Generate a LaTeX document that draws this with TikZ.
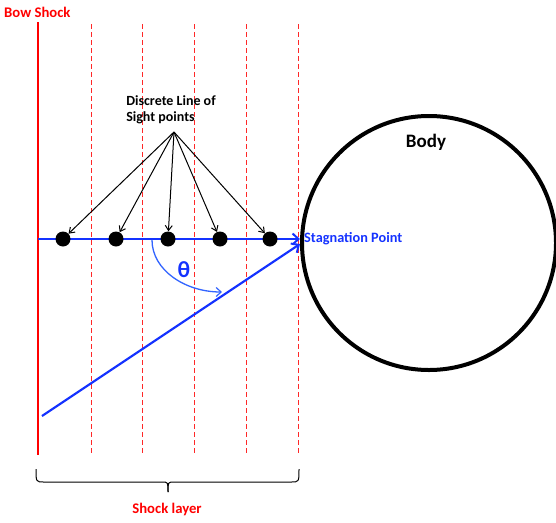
\documentclass[tikz,border=0pt]{standalone}
\usepackage{fontspec}
\setmainfont{Carlito}
\usetikzlibrary{arrows.meta}
\definecolor{shockred}{RGB}{255,0,0}
\definecolor{dashred}{RGB}{255,40,40}
\definecolor{losblue}{RGB}{20,50,255}
\definecolor{arcblue}{RGB}{50,100,255}
\tikzset{
  bowline/.style={draw=shockred, line width=2.6pt},
  layerline/.style={draw=dashred, line width=0.7pt, dash pattern=on 5pt off 3pt},
  dotnode/.style={circle, fill=black, inner sep=0pt, minimum size=15pt},
  ptr/.style={draw=black, line width=1pt, -{Straight Barb[length=5pt,width=7pt,line width=1pt]}},
  losline/.style={draw=losblue, line width=2.2pt, -{Straight Barb[length=6pt,width=11pt,line width=2pt]}},
  arcline/.style={draw=arcblue, line width=1.3pt, -{Straight Barb[length=5pt,width=9pt,line width=1.2pt]}},
  redlabel/.style={text=shockred, font=\bfseries\fontsize{14.7}{17}\selectfont, inner sep=0pt},
}
\begin{document}
\begin{tikzpicture}[x=1pt, y=-1pt]
\useasboundingbox (0,0) rectangle (556,522);
% bow shock and layer lines
\coordinate (bstop) at (38,22);
\coordinate (bsbot) at (38,455);
\draw[bowline] (bstop) -- (bsbot);
\foreach \i/\x in {1/91,2/142,3/194,4/246,5/298}{
  \coordinate (lt\i) at (\x,24);
  \coordinate (lb\i) at (\x,455);
  \draw[layerline] (lt\i) -- (lb\i);
}
\node[redlabel, anchor=west] (bowlabel) at (4,12) {Bow Shock};
% body
\node[circle, draw=black, line width=4pt, minimum size=254pt, inner sep=0pt] (body) at (429,243) {};
\node[font=\bfseries\fontsize{19}{22}\selectfont, inner sep=0pt] (bodylabel) at (426,142) {Body};
% lines of sight
\coordinate (bsmid) at (38,239);
\coordinate (sp) at (300,239);
\coordinate (diagstart) at (42,416);
\coordinate (sp2) at (300,244);
\draw[losline] (bsmid) -- (sp);
\draw[losline] (diagstart) -- (sp2);
\node[text=losblue, font=\bfseries\fontsize{14.3}{16}\selectfont, anchor=west, inner sep=0pt] (splabel) at (304,239) {Stagnation Point};
% theta arc
\coordinate (arcstart) at (152,240);
\coordinate (arcend) at (222,292);
\draw[arcline] (arcstart) .. controls (152,270) and (185,292) .. (arcend);
\node[text=losblue, font=\bfseries\fontsize{23}{26}\selectfont, inner sep=0pt] (theta) at (184,270) {θ};
% discrete points
\foreach \i/\x in {1/63,2/116,3/168,4/220,5/270}{
  \node[dotnode] (d\i) at (\x,239) {};
}
\node[font=\bfseries\fontsize{14}{16.5}\selectfont, align=left, inner sep=0pt] (loslabel) at (171,110) {Discrete Line of\\Sight points};
\coordinate (apex) at (174,132);
\foreach \i in {1,...,5}{
  \draw[ptr] (apex) -- (d\i);
}
% brace
\coordinate (brl) at (36,469);
\coordinate (brr) at (299,469);
\coordinate (brm) at (168,492);
\draw[line width=1pt] (brl) .. controls (36,482) .. (44,482) -- (162,482) .. controls (168,482) .. (brm);
\draw[line width=1pt] (brr) .. controls (299,482) .. (291,482) -- (174,482) .. controls (168,482) .. (brm);
\node[redlabel] (shocklayer) at (167,509) {Shock layer};
\end{tikzpicture}
\end{document}
